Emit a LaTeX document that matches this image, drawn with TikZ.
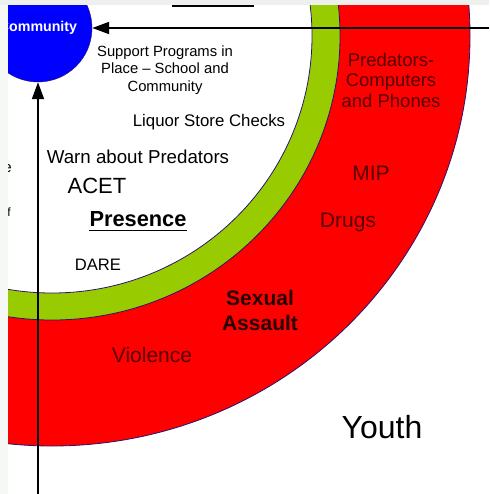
\documentclass[tikz,border=0pt]{standalone}
\usepackage{fontspec}
\setmainfont{Liberation Sans}
\usetikzlibrary{arrows.meta}
\definecolor{ringred}{RGB}{255,0,0}
\definecolor{ringgreen}{RGB}{153,204,0}
\definecolor{hubblue}{RGB}{0,0,255}
\definecolor{rimline}{RGB}{40,20,110}
\definecolor{redtext}{RGB}{85,0,0}
\definecolor{framegray}{RGB}{237,240,237}
\newcommand{\fs}[2]{\fontsize{#1}{#2}\selectfont}

\begin{document}
\begin{tikzpicture}[x=1pt,y=-1pt,
	ring/.style={draw=rimline, line width=0.8pt},
	txt/.style={inner sep=0pt, align=center},
	link/.style={line width=1.8pt, -{Triangle[length=17pt,width=12pt]}}]
	\useasboundingbox (0,0) rectangle (489,494);
	\clip (0,0) rectangle (489,494);
	\fill[white] (0,0) rectangle (489,494);
	% rings round the hub
	\filldraw[ring, fill=ringred] (52,36) ellipse [x radius=418, y radius=410];
	\filldraw[ring, fill=ringgreen] (52,36) ellipse [x radius=288, y radius=284];
	\filldraw[ring, fill=white] (52,36) ellipse [x radius=260, y radius=257];
	\draw[line width=2pt] (172,6) -- (254,6);
	% hub and the two arrows into it
	\node[circle, draw=rimline, fill=hubblue, minimum size=108pt, inner sep=0pt, text=white, font=\bfseries\fs{14.2}{16}] (community) at (38,28) {Community};
	\coordinate (feedin) at (489,28);
	\coordinate (youthin) at (38,494);
	\draw[link] (feedin) -- (community);
	\draw[link] (youthin) -- (community);
	% inside the rings
	\node[txt, font=\fs{14.8}{17.5}] (support) at (165,70) {Support Programs in\\Place – School and\\Community};
	\node[txt, font=\fs{16.8}{20}] (liquor) at (209,122) {Liquor Store Checks};
	\node[txt, font=\fs{18.7}{22}] (warn) at (138,157) {Warn about Predators};
	\node[txt, font=\fs{22}{26}] (acet) at (97,186) {ACET};
	\node[txt, font=\bfseries\fs{21.8}{26}] (presence) at (138,219) {Presence};
	\draw[line width=1.6pt] ([yshift=-4pt]presence.base west) -- ([yshift=-4pt]presence.base east);
	\node[txt, font=\fs{16.6}{20}] (dare) at (98,265) {DARE};
	% on the red ring
	\node[txt, text=redtext, font=\fs{18.5}{20.5}] (predators) at (391,80) {Predators-\\Computers\\and Phones};
	\node[txt, text=redtext, font=\fs{21}{25}] (mip) at (371,173) {MIP};
	\node[txt, text=redtext, font=\fs{21}{25}] (drugs) at (348,222) {Drugs};
	\node[txt, text=black!85!red, font=\bfseries\fs{21}{25}] (assault) at (260,310) {Sexual\\Assault};
	\node[txt, text=redtext, font=\fs{21}{25}] (violence) at (152,355) {Violence};
	\node[txt, font=\fs{32}{36}] (youth) at (382,427) {Youth};
	% cut-off letters at the left edge
	\node[txt, anchor=east, font=\fs{15}{18}] (cute) at (12,169) {e};
	\node[txt, anchor=east, font=\fs{12}{14}] (cutf) at (11,212) {f};
	% frame
	\fill[framegray] (0,0) rectangle (489,5);
	\fill[framegray!50!white] (0,5) rectangle (8,494);
\end{tikzpicture}
\end{document}
